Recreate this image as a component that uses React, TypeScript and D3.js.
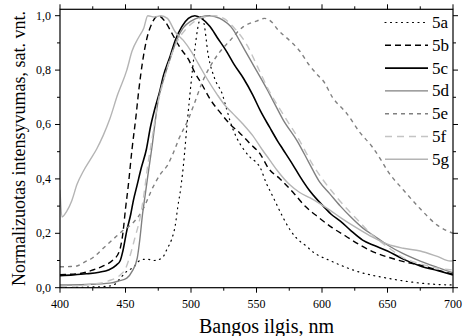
import React from "react";
import * as d3 from "d3";

const W = 464;
const H = 336;

// Series data (wavelength nm, normalized intensity)
const nm5a = [400, 420, 435, 441, 446, 451, 456, 461, 466, 472, 478, 482, 485, 488, 490, 492, 494, 497, 500, 503, 505, 508, 510, 513, 518, 524, 527, 530, 535, 540, 545, 550, 553, 557, 563, 569, 576, 581, 588, 594, 598, 606, 614, 622, 631, 640, 650, 662, 675, 688, 700];
const v5a = [0.0, 0.002, 0.005, 0.01, 0.035, 0.06, 0.075, 0.1, 0.105, 0.1, 0.11, 0.145, 0.175, 0.23, 0.3, 0.36, 0.44, 0.6, 0.75, 0.88, 0.95, 1.0, 0.97, 0.86, 0.77, 0.71, 0.66, 0.61, 0.55, 0.51, 0.48, 0.46, 0.44, 0.39, 0.33, 0.27, 0.21, 0.18, 0.153, 0.128, 0.117, 0.1, 0.083, 0.068, 0.054, 0.044, 0.035, 0.025, 0.017, 0.012, 0.01];

const nm5b = [400, 415, 425, 433, 440, 445, 448, 450, 452, 455, 458, 460, 463, 466, 470, 475, 480, 486, 492, 498, 503, 508, 515, 523, 530, 537, 545, 553, 559, 568, 578, 587, 597, 608, 618, 629, 640, 652, 663, 675, 688, 700];
const v5b = [0.048, 0.052, 0.065, 0.08, 0.1, 0.13, 0.2, 0.29, 0.37, 0.51, 0.63, 0.72, 0.83, 0.91, 0.97, 1.0, 0.98, 0.93, 0.88, 0.84, 0.79, 0.75, 0.69, 0.64, 0.6, 0.57, 0.53, 0.49, 0.44, 0.4, 0.35, 0.3, 0.26, 0.22, 0.19, 0.157, 0.13, 0.11, 0.095, 0.083, 0.065, 0.05];

const nm5c = [400, 410, 420, 430, 437, 443, 446, 448, 451, 454, 456, 459, 462, 466, 469, 472.5, 476, 479, 484, 488, 493, 498, 503, 508, 514.5, 520, 527, 533, 540, 547, 553, 560, 566, 570, 578, 583, 590, 597, 601, 607, 614, 622, 631, 640, 650, 662, 675, 688, 700];
const v5c = [0.044, 0.047, 0.051, 0.057, 0.065, 0.083, 0.1, 0.135, 0.21, 0.27, 0.32, 0.38, 0.44, 0.51, 0.59, 0.66, 0.72, 0.78, 0.85, 0.91, 0.96, 0.99, 1.0, 0.99, 0.96, 0.92, 0.87, 0.82, 0.77, 0.71, 0.65, 0.59, 0.54, 0.51, 0.45, 0.41, 0.36, 0.32, 0.3, 0.27, 0.245, 0.21, 0.175, 0.155, 0.135, 0.105, 0.08, 0.063, 0.047];

const nm5d = [400, 420, 438, 445, 451, 455, 459, 461, 463, 465, 467, 470, 475, 480, 484, 489, 494, 500, 507, 514.5, 522, 532, 538, 545, 551, 558, 564, 570, 581, 590, 598, 606, 614, 622, 631, 640, 650, 662, 675, 688, 700];
const v5d = [0.01, 0.012, 0.017, 0.025, 0.035, 0.06, 0.11, 0.18, 0.27, 0.34, 0.41, 0.51, 0.69, 0.78, 0.84, 0.91, 0.955, 0.98, 0.995, 1.0, 0.99, 0.95, 0.9, 0.84, 0.79, 0.73, 0.675, 0.62, 0.54, 0.46, 0.39, 0.345, 0.3, 0.26, 0.22, 0.19, 0.157, 0.125, 0.098, 0.075, 0.055];

const nm5e = [400, 408, 413, 419, 425, 433, 441, 448, 455, 463, 471, 477, 482, 486, 491, 498, 502, 509, 518, 530, 540, 550, 556, 562, 566, 575, 583, 590, 597, 601, 608, 619, 629, 638, 645, 650, 662, 675, 688, 700];
const v5e = [0.077, 0.078, 0.08, 0.095, 0.11, 0.145, 0.18, 0.21, 0.235, 0.285, 0.37, 0.42, 0.45, 0.49, 0.55, 0.62, 0.67, 0.76, 0.84, 0.91, 0.96, 0.98, 0.99, 0.975, 0.95, 0.91, 0.87, 0.82, 0.78, 0.76, 0.7, 0.64, 0.57, 0.52, 0.47, 0.43, 0.36, 0.29, 0.23, 0.2];

const nm5f = [400, 415, 425, 437, 446, 450, 453, 457, 461, 464, 467, 470, 474, 479, 484, 490, 496, 503, 510, 518, 525, 533, 543, 551, 560, 570, 583, 592, 601, 610, 619, 628, 637, 650, 662, 675, 688, 700];
const v5f = [0.005, 0.008, 0.013, 0.025, 0.047, 0.07, 0.11, 0.18, 0.255, 0.34, 0.45, 0.54, 0.66, 0.76, 0.84, 0.91, 0.95, 0.98, 0.995, 1.0, 0.99, 0.955, 0.89, 0.81, 0.72, 0.64, 0.54, 0.46, 0.395, 0.34, 0.29, 0.245, 0.2, 0.15, 0.11, 0.088, 0.072, 0.065];

const nm5g = [400, 401.5, 405, 409, 413, 418, 423, 428, 433, 438, 444, 451, 455, 460, 464, 467, 472, 477, 482, 488, 494, 500, 506, 512, 520, 526, 532, 540, 547, 554, 560, 566, 575, 583, 591, 598, 606, 615, 624, 637, 650, 662, 675, 688, 698, 700];
const v5g = [0.36, 0.26, 0.28, 0.32, 0.38, 0.43, 0.47, 0.51, 0.56, 0.62, 0.71, 0.8, 0.87, 0.92, 0.955, 1.0, 0.995, 1.0, 0.99, 0.94, 0.91, 0.87, 0.82, 0.77, 0.71, 0.67, 0.64, 0.6, 0.56, 0.51, 0.47, 0.43, 0.38, 0.35, 0.33, 0.31, 0.285, 0.255, 0.227, 0.19, 0.16, 0.145, 0.135, 0.115, 0.098, 0.1];

const seriesNames = ["5a", "5b", "5c", "5d", "5e", "5f", "5g"];
const seriesX = [nm5a, nm5b, nm5c, nm5d, nm5e, nm5f, nm5g];
const seriesY = [v5a, v5b, v5c, v5d, v5e, v5f, v5g];

const xTicks = [400, 450, 500, 550, 600, 650, 700];
const xMinor = [425, 475, 525, 575, 625, 675];
const yTicks = [0, 0.2, 0.4, 0.6, 0.8, 1.0];
const yMinor = [0.1, 0.3, 0.5, 0.7, 0.9];

const styles = [
  { color: "#000", width: 1.2, dash: "1 4.5", cap: "round" },
  { color: "#000", width: 1.4, dash: "6 4", cap: "butt" },
  { color: "#000", width: 1.6, dash: "", cap: "butt" },
  { color: "#808080", width: 1.4, dash: "", cap: "butt" },
  { color: "#808080", width: 1.4, dash: "4 4", cap: "butt" },
  { color: "#c4c4c4", width: 1.4, dash: "7 5", cap: "butt" },
  { color: "#b4b4b4", width: 1.4, dash: "", cap: "butt" },
];

const L = 60, R = 453, T = 9.3, B = 287.7;

export default function App() {
  const x = d3.scaleLinear().domain([400, 700]).range([L, R]);
  const y = d3.scaleLinear().domain([0, 1.0235]).range([B, T]);
  const line = d3
    .line<[number, number]>()
    .x((d) => x(d[0]))
    .y((d) => y(d[1]))
    .curve(d3.curveMonotoneX);

  const font = "Liberation Serif, Tinos, DejaVu Serif, Times New Roman, serif";

  return (
    <svg width={W} height={H} style={{ position: "absolute", left: 0, top: 0, background: "#fff", fontFamily: font }}>
      <defs>
        <clipPath id="plot">
          <rect x={L} y={T} width={R - L} height={B - T} />
        </clipPath>
      </defs>
      <g clipPath="url(#plot)">
        {seriesNames.map((n, i) => {
          const pts = seriesX[i].map((v, j) => [v, seriesY[i][j]] as [number, number]);
          const s = styles[i];
          return (
            <path
              key={n}
              d={line(pts) || ""}
              fill="none"
              stroke={s.color}
              strokeWidth={s.width}
              strokeDasharray={s.dash}
              strokeLinecap={s.cap as any}
            />
          );
        })}
      </g>
      {/* frame */}
      <rect x={L} y={T} width={R - L} height={B - T} fill="none" stroke="#000" strokeWidth={1.2} />
      {/* x ticks */}
      {xTicks.map((t) => (
        <g key={"xt" + t}>
          <line x1={x(t)} x2={x(t)} y1={B} y2={B + 5} stroke="#000" />
          <line x1={x(t)} x2={x(t)} y1={T} y2={T - 5} stroke="#000" />
          <text x={x(t)} y={308} fontSize={12} textAnchor="middle" style={{ fontFamily: font }}>{t}</text>
        </g>
      ))}
      {xMinor.map((t) => (
        <g key={"xm" + t}>
          <line x1={x(t)} x2={x(t)} y1={B} y2={B + 3} stroke="#000" />
          <line x1={x(t)} x2={x(t)} y1={T} y2={T - 3} stroke="#000" />
        </g>
      ))}
      {yTicks.map((t) => (
        <g key={"yt" + t}>
          <line x1={L} x2={L - 5} y1={y(t)} y2={y(t)} stroke="#000" />
          <line x1={R} x2={R + 5} y1={y(t)} y2={y(t)} stroke="#000" />
          <text x={51} y={y(t) + 4} fontSize={12} textAnchor="end" style={{ fontFamily: font }}>{t.toFixed(1).replace(".", ",")}</text>
        </g>
      ))}
      {yMinor.map((t) => (
        <g key={"ym" + t}>
          <line x1={L} x2={L - 3} y1={y(t)} y2={y(t)} stroke="#000" />
          <line x1={R} x2={R + 3} y1={y(t)} y2={y(t)} stroke="#000" />
        </g>
      ))}
      {/* legend */}
      {seriesNames.map((n, i) => {
        const s = styles[i];
        const cy = 22.5 + i * 22.8;
        return (
          <g key={"lg" + n}>
            <line x1={385} x2={428} y1={cy} y2={cy} stroke={s.color} strokeWidth={s.width} strokeDasharray={s.dash} strokeLinecap={s.cap as any} />
            <text x={432} y={cy + 5.5} fontSize={17} style={{ fontFamily: font }}>{n}</text>
          </g>
        );
      })}
      {/* axis titles */}
      <text x={(L + R) / 2 + 10} y={333} fontSize={20} textAnchor="middle" style={{ fontFamily: font }}>Bangos ilgis, nm</text>
      <text transform={`translate(25,${(T + B) / 2}) rotate(-90)`} fontSize={18} textAnchor="middle" style={{ fontFamily: font }}>
        Normalizuotas intensyvumas, sat. vnt.
      </text>
    </svg>
  );
}
